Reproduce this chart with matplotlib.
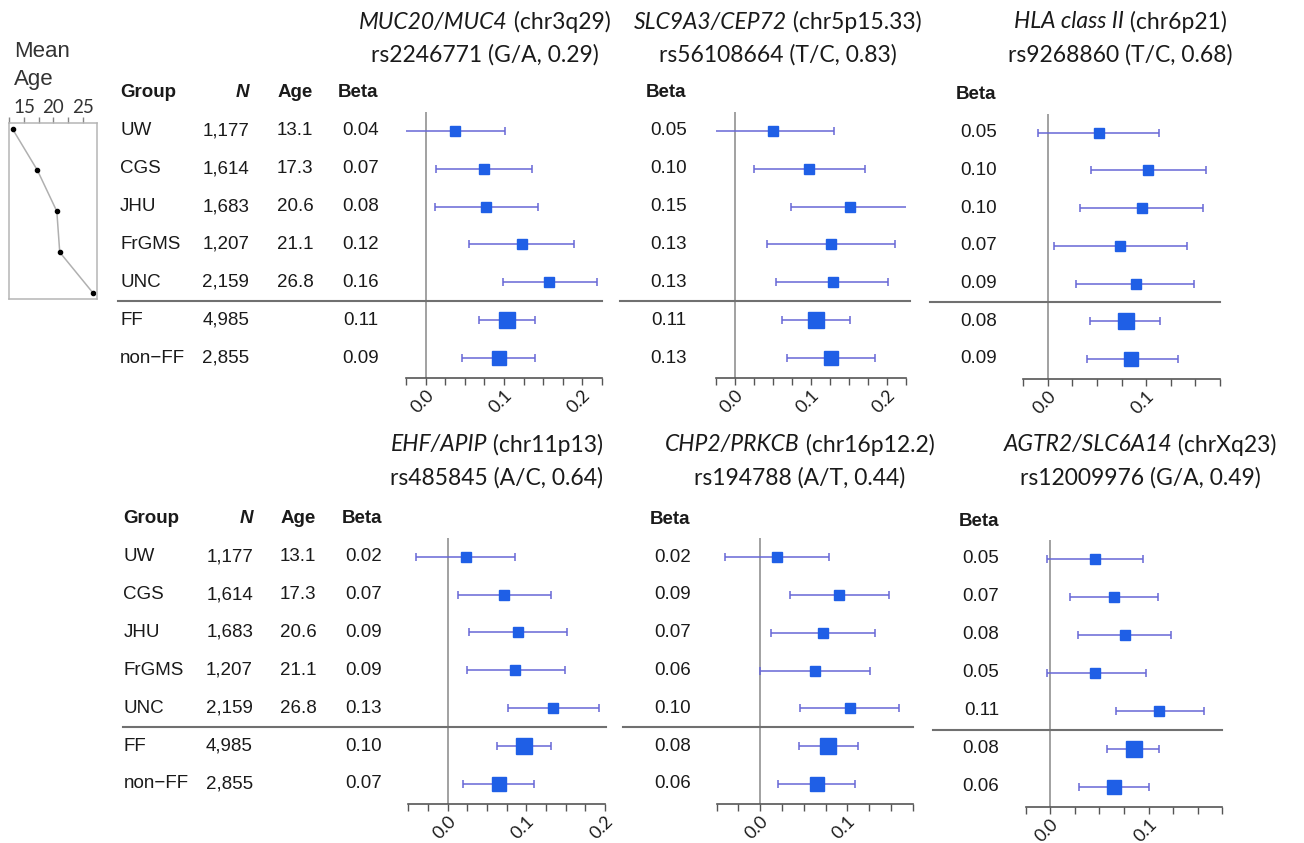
import numpy as np
import matplotlib
matplotlib.use('Agg')
import matplotlib.pyplot as plt
import matplotlib.transforms as mtransforms
from matplotlib.ticker import MultipleLocator, FormatStrFormatter

W, H = 1304, 843

groups = ['UW', 'CGS', 'JHU', 'FrGMS', 'UNC', 'FF', 'non\u2212FF']
n_labels = ['1,177', '1,614', '1,683', '1,207', '2,159', '4,985', '2,855']
age_labels = ['13.1', '17.3', '20.6', '21.1', '26.8', '', '']
mean_age = [13.1, 17.3, 20.6, 21.1, 26.8]

# panel 1: MUC20/MUC4
p1_gene, p1_loc, p1_snp = 'MUC20/MUC4', '(chr3q29)', 'rs2246771 (G/A, 0.29)'
p1_beta = ['0.04', '0.07', '0.08', '0.12', '0.16', '0.11', '0.09']
p1_est = [0.037, 0.074, 0.077, 0.123, 0.158, 0.104, 0.093]
p1_lo = [-0.027, 0.013, 0.012, 0.055, 0.099, 0.068, 0.046]
p1_hi = [0.101, 0.136, 0.143, 0.189, 0.218, 0.140, 0.140]

# panel 2: SLC9A3/CEP72
p2_gene, p2_loc, p2_snp = 'SLC9A3/CEP72', '(chr5p15.33)', 'rs56108664 (T/C, 0.83)'
p2_beta = ['0.05', '0.10', '0.15', '0.13', '0.13', '0.11', '0.13']
p2_est = [0.051, 0.098, 0.152, 0.126, 0.129, 0.107, 0.126]
p2_lo = [-0.028, 0.026, 0.074, 0.042, 0.055, 0.062, 0.069]
p2_hi = [0.131, 0.171, 0.231, 0.210, 0.202, 0.152, 0.184]

# panel 3: HLA class II
p3_gene, p3_loc, p3_snp = 'HLA class II', '(chr6p21)', 'rs9268860 (T/C, 0.68)'
p3_beta = ['0.05', '0.10', '0.10', '0.07', '0.09', '0.08', '0.09']
p3_est = [0.052, 0.102, 0.096, 0.073, 0.090, 0.079, 0.085]
p3_lo = [-0.010, 0.044, 0.033, 0.006, 0.029, 0.043, 0.040]
p3_hi = [0.113, 0.161, 0.158, 0.141, 0.149, 0.114, 0.132]

# panel 4: EHF/APIP
p4_gene, p4_loc, p4_snp = 'EHF/APIP', '(chr11p13)', 'rs485845 (A/C, 0.64)'
p4_beta = ['0.02', '0.07', '0.09', '0.09', '0.13', '0.10', '0.07']
p4_est = [0.023, 0.072, 0.089, 0.086, 0.134, 0.097, 0.065]
p4_lo = [-0.040, 0.013, 0.027, 0.024, 0.077, 0.063, 0.020]
p4_hi = [0.086, 0.131, 0.152, 0.149, 0.192, 0.131, 0.110]

# panel 5: CHP2/PRKCB
p5_gene, p5_loc, p5_snp = 'CHP2/PRKCB', '(chr16p12.2)', 'rs194788 (A/T, 0.44)'
p5_beta = ['0.02', '0.09', '0.07', '0.06', '0.10', '0.08', '0.06']
p5_est = [0.019, 0.090, 0.072, 0.063, 0.103, 0.078, 0.065]
p5_lo = [-0.041, 0.034, 0.012, 0.000, 0.046, 0.045, 0.020]
p5_hi = [0.079, 0.148, 0.132, 0.126, 0.159, 0.112, 0.109]

# panel 6: AGTR2/SLC6A14
p6_gene, p6_loc, p6_snp = 'AGTR2/SLC6A14', '(chrXq23)', 'rs12009976 (G/A, 0.49)'
p6_beta = ['0.05', '0.07', '0.08', '0.05', '0.11', '0.08', '0.06']
p6_est = [0.045, 0.065, 0.076, 0.046, 0.111, 0.085, 0.065]
p6_lo = [-0.003, 0.020, 0.028, -0.003, 0.067, 0.058, 0.029]
p6_hi = [0.094, 0.110, 0.123, 0.097, 0.156, 0.111, 0.100]

sq_color = '#1f5fe6'
bar_color = '#6767d6'
txt_color = '#1a1a1a'
sizes = [7.5, 7.5, 7.5, 7.5, 7.5, 11.5, 10]

fig = plt.figure(figsize=(W / 100, H / 100), dpi=100)
renderer = fig.canvas.get_renderer()


def fx(x):
    return x / W


def fy(y):
    return 1 - y / H


def add_px_axes(x0, x1, ytop, ybot):
    return fig.add_axes([fx(x0), fy(ybot), (x1 - x0) / W, (ybot - ytop) / H])


# layout: axes box, x range, title centre, table columns, separator extent
panels = [
    dict(gene=p1_gene, loc=p1_loc, snp=p1_snp, beta=p1_beta, est=p1_est, lo=p1_lo, hi=p1_hi,
         box=(406, 602, 111.7, 378.3), xlim=(-0.025, 0.225), tx=485, ty=(22, 55),
         beta_x=378.7, table=(120, 249.3, 295), sep=(118, 602)),
    dict(gene=p2_gene, loc=p2_loc, snp=p2_snp, beta=p2_beta, est=p2_est, lo=p2_lo, hi=p2_hi,
         box=(715.5, 906, 111.7, 378.3), xlim=(-0.025, 0.225), tx=778, ty=(22, 55),
         beta_x=686.7, table=None, sep=(620, 910)),
    dict(gene=p3_gene, loc=p3_loc, snp=p3_snp, beta=p3_beta, est=p3_est, lo=p3_lo, hi=p3_hi,
         box=(1023.3, 1220, 113.7, 379), xlim=(-0.025, 0.175), tx=1120, ty=(22, 55),
         beta_x=996.7, table=None, sep=(930, 1220)),
    dict(gene=p4_gene, loc=p4_loc, snp=p4_snp, beta=p4_beta, est=p4_est, lo=p4_lo, hi=p4_hi,
         box=(408.3, 605, 537.8, 804), xlim=(-0.05, 0.2), tx=497, ty=(445, 478),
         beta_x=382, table=(123.3, 253, 298), sep=(122.7, 606)),
    dict(gene=p5_gene, loc=p5_loc, snp=p5_snp, beta=p5_beta, est=p5_est, lo=p5_lo, hi=p5_hi,
         box=(716.7, 912.7, 538.3, 804), xlim=(-0.05, 0.175), tx=800, ty=(445, 478),
         beta_x=690.7, table=None, sep=(623, 913)),
    dict(gene=p6_gene, loc=p6_loc, snp=p6_snp, beta=p6_beta, est=p6_est, lo=p6_lo, hi=p6_hi,
         box=(1025.7, 1222.3, 540, 807), xlim=(-0.025, 0.175), tx=1140, ty=(445, 478),
         beta_x=999.3, table=None, sep=(933, 1222)),
]

tfont = dict(family='Liberation Sans', fontsize=13.5, color=txt_color)
title_font = dict(family='Lato', fontsize=16.5, color=txt_color)

for p in panels:
    ax = add_px_axes(*p['box'])
    est = np.array(p['est'])
    lo = np.array(p['lo'])
    hi = np.array(p['hi'])
    y = np.arange(len(est))
    ax.errorbar(est, y, xerr=[est - lo, hi - est], fmt='none', ecolor=bar_color,
                elinewidth=1.1, capsize=2.6, capthick=1.1, zorder=2)
    for xi, yi, ms in zip(est, y, sizes):
        ax.plot(xi, yi, marker='s', ms=ms, color=sq_color, mec=sq_color, zorder=3)
    ax.axvline(0, color='#9a9a9a', lw=1.3, zorder=1)
    ax.set_xlim(*p['xlim'])
    ax.set_ylim(6.53, -0.5)
    for s in ['top', 'left', 'right']:
        ax.spines[s].set_visible(False)
    ax.spines['bottom'].set_color('#555555')
    ax.spines['bottom'].set_linewidth(1.2)
    ax.set_yticks([])
    ax.xaxis.set_major_locator(MultipleLocator(0.1))
    ax.xaxis.set_minor_locator(MultipleLocator(0.025))
    ax.xaxis.set_major_formatter(FormatStrFormatter('%.1f'))
    ax.tick_params(axis='x', which='both', length=5, width=1, color='#555555', pad=1.5)
    for lab in ax.get_xticklabels():
        lab.set_rotation(45)
        lab.set_ha('right')
        lab.set_rotation_mode('anchor')
        lab.set_fontsize(13)
        lab.set_family('Lato')
        lab.set_color(txt_color)
    ax.patch.set_alpha(0)

    blend = mtransforms.blended_transform_factory(fig.transFigure, ax.transData)
    ax.plot([fx(p['sep'][0]), fx(p['sep'][1])], [4.5, 4.5], transform=blend,
            clip_on=False, color='#707070', lw=1.5)

    # Beta column
    ax.text(fx(p['beta_x']), -1, 'Beta', transform=blend, ha='right', va='center',
            fontweight='bold', **tfont)
    for yi, b in zip(y, p['beta']):
        ax.text(fx(p['beta_x']), yi, b, transform=blend, ha='right', va='center', **tfont)

    if p['table'] is not None:
        gx, nx, agex = p['table']
        ax.text(fx(gx), -1, 'Group', transform=blend, ha='left', va='center',
                fontweight='bold', **tfont)
        ax.text(fx(nx), -1, 'N', transform=blend, ha='right', va='center',
                fontweight='bold', fontstyle='italic', **tfont)
        ax.text(fx(agex), -1, 'Age', transform=blend, ha='center', va='center',
                fontweight='bold', **tfont)
        for yi, g, n, a in zip(y, groups, n_labels, age_labels):
            ax.text(fx(gx), yi, g, transform=blend, ha='left', va='center', **tfont)
            ax.text(fx(nx), yi, n, transform=blend, ha='right', va='center', **tfont)
            ax.text(fx(agex), yi, a, transform=blend, ha='center', va='center', **tfont)

    # title: italic gene name followed by upright locus, centred together
    t1 = fig.text(0, fy(p['ty'][0]), p['gene'], ha='left', va='center',
                  fontstyle='italic', **title_font)
    t2 = fig.text(0, fy(p['ty'][0]), '\u00a0' + p['loc'], ha='left', va='center', **title_font)
    w1 = t1.get_window_extent(renderer).width
    w2 = t2.get_window_extent(renderer).width
    x_start = p['tx'] - (w1 + w2) / 2
    t1.set_x(fx(x_start))
    t2.set_x(fx(x_start + w1))
    fig.text(fx(p['tx']), fy(p['ty'][1]), p['snp'], ha='center', va='center', **title_font)

# mean age mini panel
axa = add_px_axes(9.3, 96.7, 123.3, 299.3)
axa.plot(mean_age, np.arange(len(mean_age)), color='#b0b0b0', lw=1.1, zorder=1)
axa.plot(mean_age, np.arange(len(mean_age)), 'o', color='black', ms=3, zorder=2)
axa.set_xlim(12.5, 27.4)
axa.set_ylim(4.15, -0.15)
axa.set_yticks([])
axa.xaxis.tick_top()
axa.xaxis.set_major_locator(MultipleLocator(5))
axa.xaxis.set_minor_locator(MultipleLocator(2.5))
axa.tick_params(axis='x', which='both', length=4, width=1, color='#888888', pad=1.5,
                labelsize=13.5, labelcolor='#333333')
for lab in axa.get_xticklabels():
    lab.set_family('Lato')
for s in axa.spines.values():
    s.set_color('#b5b5b5')
    s.set_linewidth(1.1)
fig.text(fx(14), fy(51.7), 'Mean', ha='left', va='center', family='Liberation Sans',
         fontsize=16, color='#333333')
fig.text(fx(14), fy(79), 'Age', ha='left', va='center', family='Liberation Sans',
         fontsize=16, color='#333333')

fig.savefig('out.png', dpi=100)
